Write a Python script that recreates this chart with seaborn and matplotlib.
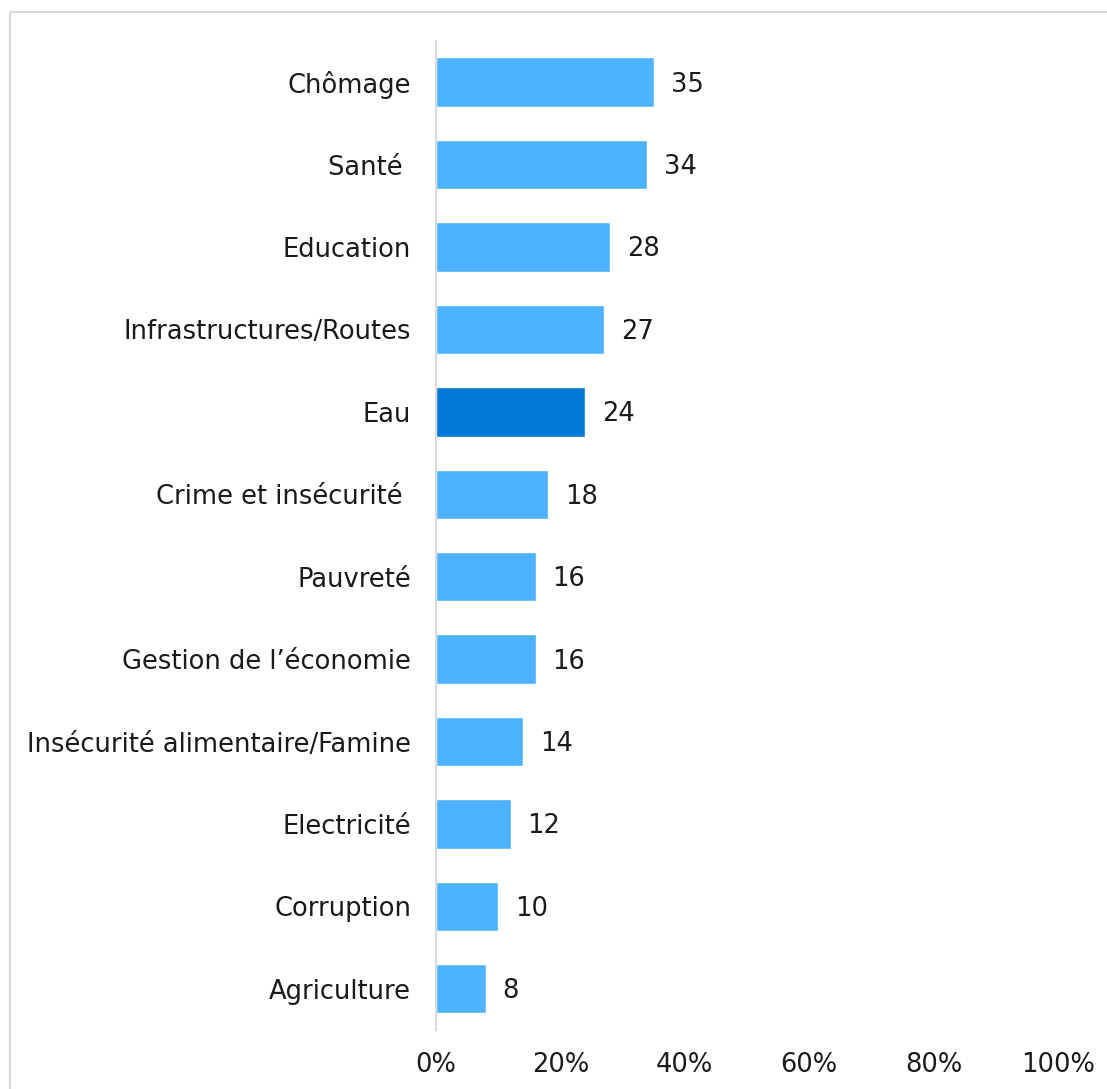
import matplotlib
matplotlib.use("Agg")
import matplotlib.pyplot as plt
from matplotlib.patches import Rectangle
from matplotlib.ticker import FuncFormatter
import seaborn as sns
import pandas as pd

categories = ["Chômage", "Santé ", "Education", "Infrastructures/Routes", "Eau",
              "Crime et insécurité ", "Pauvreté", "Gestion de l\u2019économie",
              "Insécurité alimentaire/Famine", "Electricité", "Corruption", "Agriculture"]
values = [35, 34, 28, 27, 24, 18, 16, 16, 14, 12, 10, 8]
highlight = "Eau"
x_ticks = [0, 20, 40, 60, 80, 100]

sns.set_theme(style="white")
plt.rcParams["font.family"] = ["DejaVu Sans"]

df = pd.DataFrame({"cat": categories, "val": values})
df["grp"] = ["hi" if c == highlight else "base" for c in categories]

fig = plt.figure(figsize=(11.07, 10.89), dpi=100)
ax = fig.add_axes([0.3939, 0.0542, 0.9557 - 0.3939, 0.9624 - 0.0542])

sns.barplot(data=df, y="cat", x="val", hue="grp", orient="h", dodge=False,
            palette={"base": "#4DB2FF", "hi": "#0078D7"}, width=0.6,
            legend=False, ax=ax, saturation=1)

ax.set_xlim(0, 100)
ax.set_ylim(len(categories) - 0.5, -0.5)
ax.set_xticks(x_ticks)
ax.xaxis.set_major_formatter(FuncFormatter(lambda v, p: f"{v:.0f}%"))
ax.set_xlabel("")
ax.set_ylabel("")
for s in ["top", "right", "bottom"]:
    ax.spines[s].set_visible(False)
ax.spines["left"].set_color("#D9D9D9")
ax.spines["left"].set_linewidth(1.5)
ax.tick_params(axis="both", length=0, labelsize=18.5, colors="#1a1a1a")
ax.tick_params(axis="y", pad=18)
ax.tick_params(axis="x", pad=16)

for i, v in enumerate(values):
    ax.text(v + 2.7, i + 0.03, f"{v}", va="center", ha="left", fontsize=18.5, color="#1a1a1a")

fig.patches.append(Rectangle((10 / 1107, -0.01), 1.0, 1 - 12 / 1089 + 0.01,
                             transform=fig.transFigure, fill=False,
                             edgecolor="#D9D9D9", linewidth=1.5))

fig.savefig("out.png", dpi=100)
